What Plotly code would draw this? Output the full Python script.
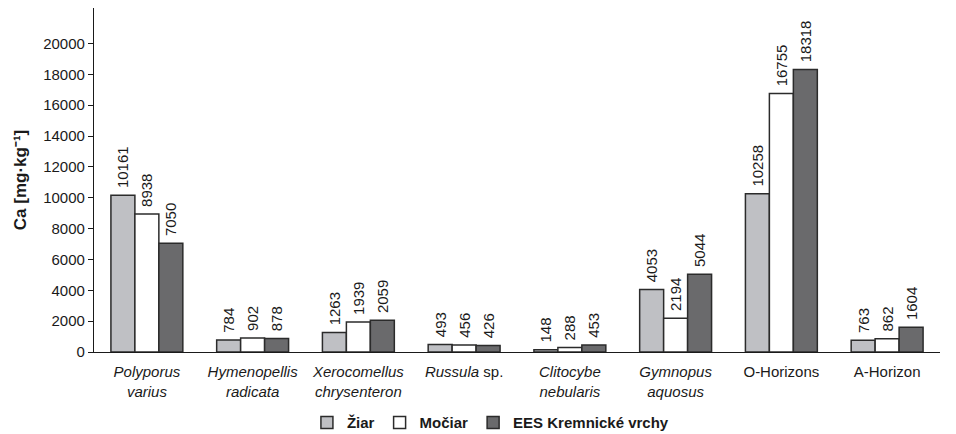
import plotly.graph_objects as go

# Calcium content per sample group and site
categories = [
    "<i>Polyporus</i><br><i>varius</i>",
    "<i>Hymenopellis</i><br><i>radicata</i>",
    "<i>Xerocomellus</i><br><i>chrysenteron</i>",
    "<i>Russula</i> sp.",
    "<i>Clitocybe</i><br><i>nebularis</i>",
    "<i>Gymnopus</i><br><i>aquosus</i>",
    "O-Horizons",
    "A-Horizon",
]
ziar = [10161, 784, 1263, 493, 148, 4053, 10258, 763]
mociar = [8938, 902, 1939, 456, 288, 2194, 16755, 862]
ees = [7050, 878, 2059, 426, 453, 5044, 18318, 1604]

series_names = ["Žiar", "Močiar", "EES Kremnické vrchy"]
series_values = [ziar, mociar, ees]
series_colors = ["#bfc0c4", "#ffffff", "#6a6a6c"]

y_ticks = list(range(0, 20001, 2000))

FONT = "Liberation Sans, Arial, sans-serif"

fig = go.Figure()
for name, vals, col in zip(series_names, series_values, series_colors):
    fig.add_trace(go.Bar(
        name=name,
        x=categories,
        y=vals,
        marker=dict(color=col, line=dict(color="#2b2b2b", width=1.5)),
        # a leading no-break space keeps the rotated value a little above the bar
        text=["\u00a0" + str(v) for v in vals],
        textposition="outside",
        textangle=-90,
        constraintext="none",
        cliponaxis=False,
        textfont=dict(family=FONT, size=15, color="#1a1a1a"),
    ))

fig.update_layout(
    width=956,
    height=434,
    margin=dict(l=94, r=16, t=8, b=82, autoexpand=False),
    paper_bgcolor="white",
    plot_bgcolor="white",
    barmode="group",
    bargap=0.32,
    bargroupgap=0,
    font=dict(family=FONT, size=15, color="#1a1a1a"),
    showlegend=True,
    legend=dict(
        orientation="h",
        x=0.513, xanchor="center", xref="container",
        y=0.026, yanchor="middle", yref="container",
        font=dict(family=FONT, size=15, color="#1a1a1a", weight="bold"),
        itemwidth=30,
        traceorder="normal",
    ),
    xaxis=dict(
        showline=True, linecolor="#1a1a1a", linewidth=1.2,
        ticks="", showgrid=False,
        tickfont=dict(family=FONT, size=15),
        ticklabelstandoff=6,
    ),
    yaxis=dict(
        range=[0, 22300],
        tickvals=y_ticks,
        ticktext=[str(v) for v in y_ticks],
        showline=True, linecolor="#1a1a1a", linewidth=1.2,
        ticks="outside", ticklen=5, tickcolor="#1a1a1a",
        showgrid=False, zeroline=False,
        tickfont=dict(family=FONT, size=15),
        title=dict(text="Ca [mg·kg⁻¹]", font=dict(family=FONT, size=17, weight="bold"), standoff=12),
    ),
)

fig.write_html("out.html")
